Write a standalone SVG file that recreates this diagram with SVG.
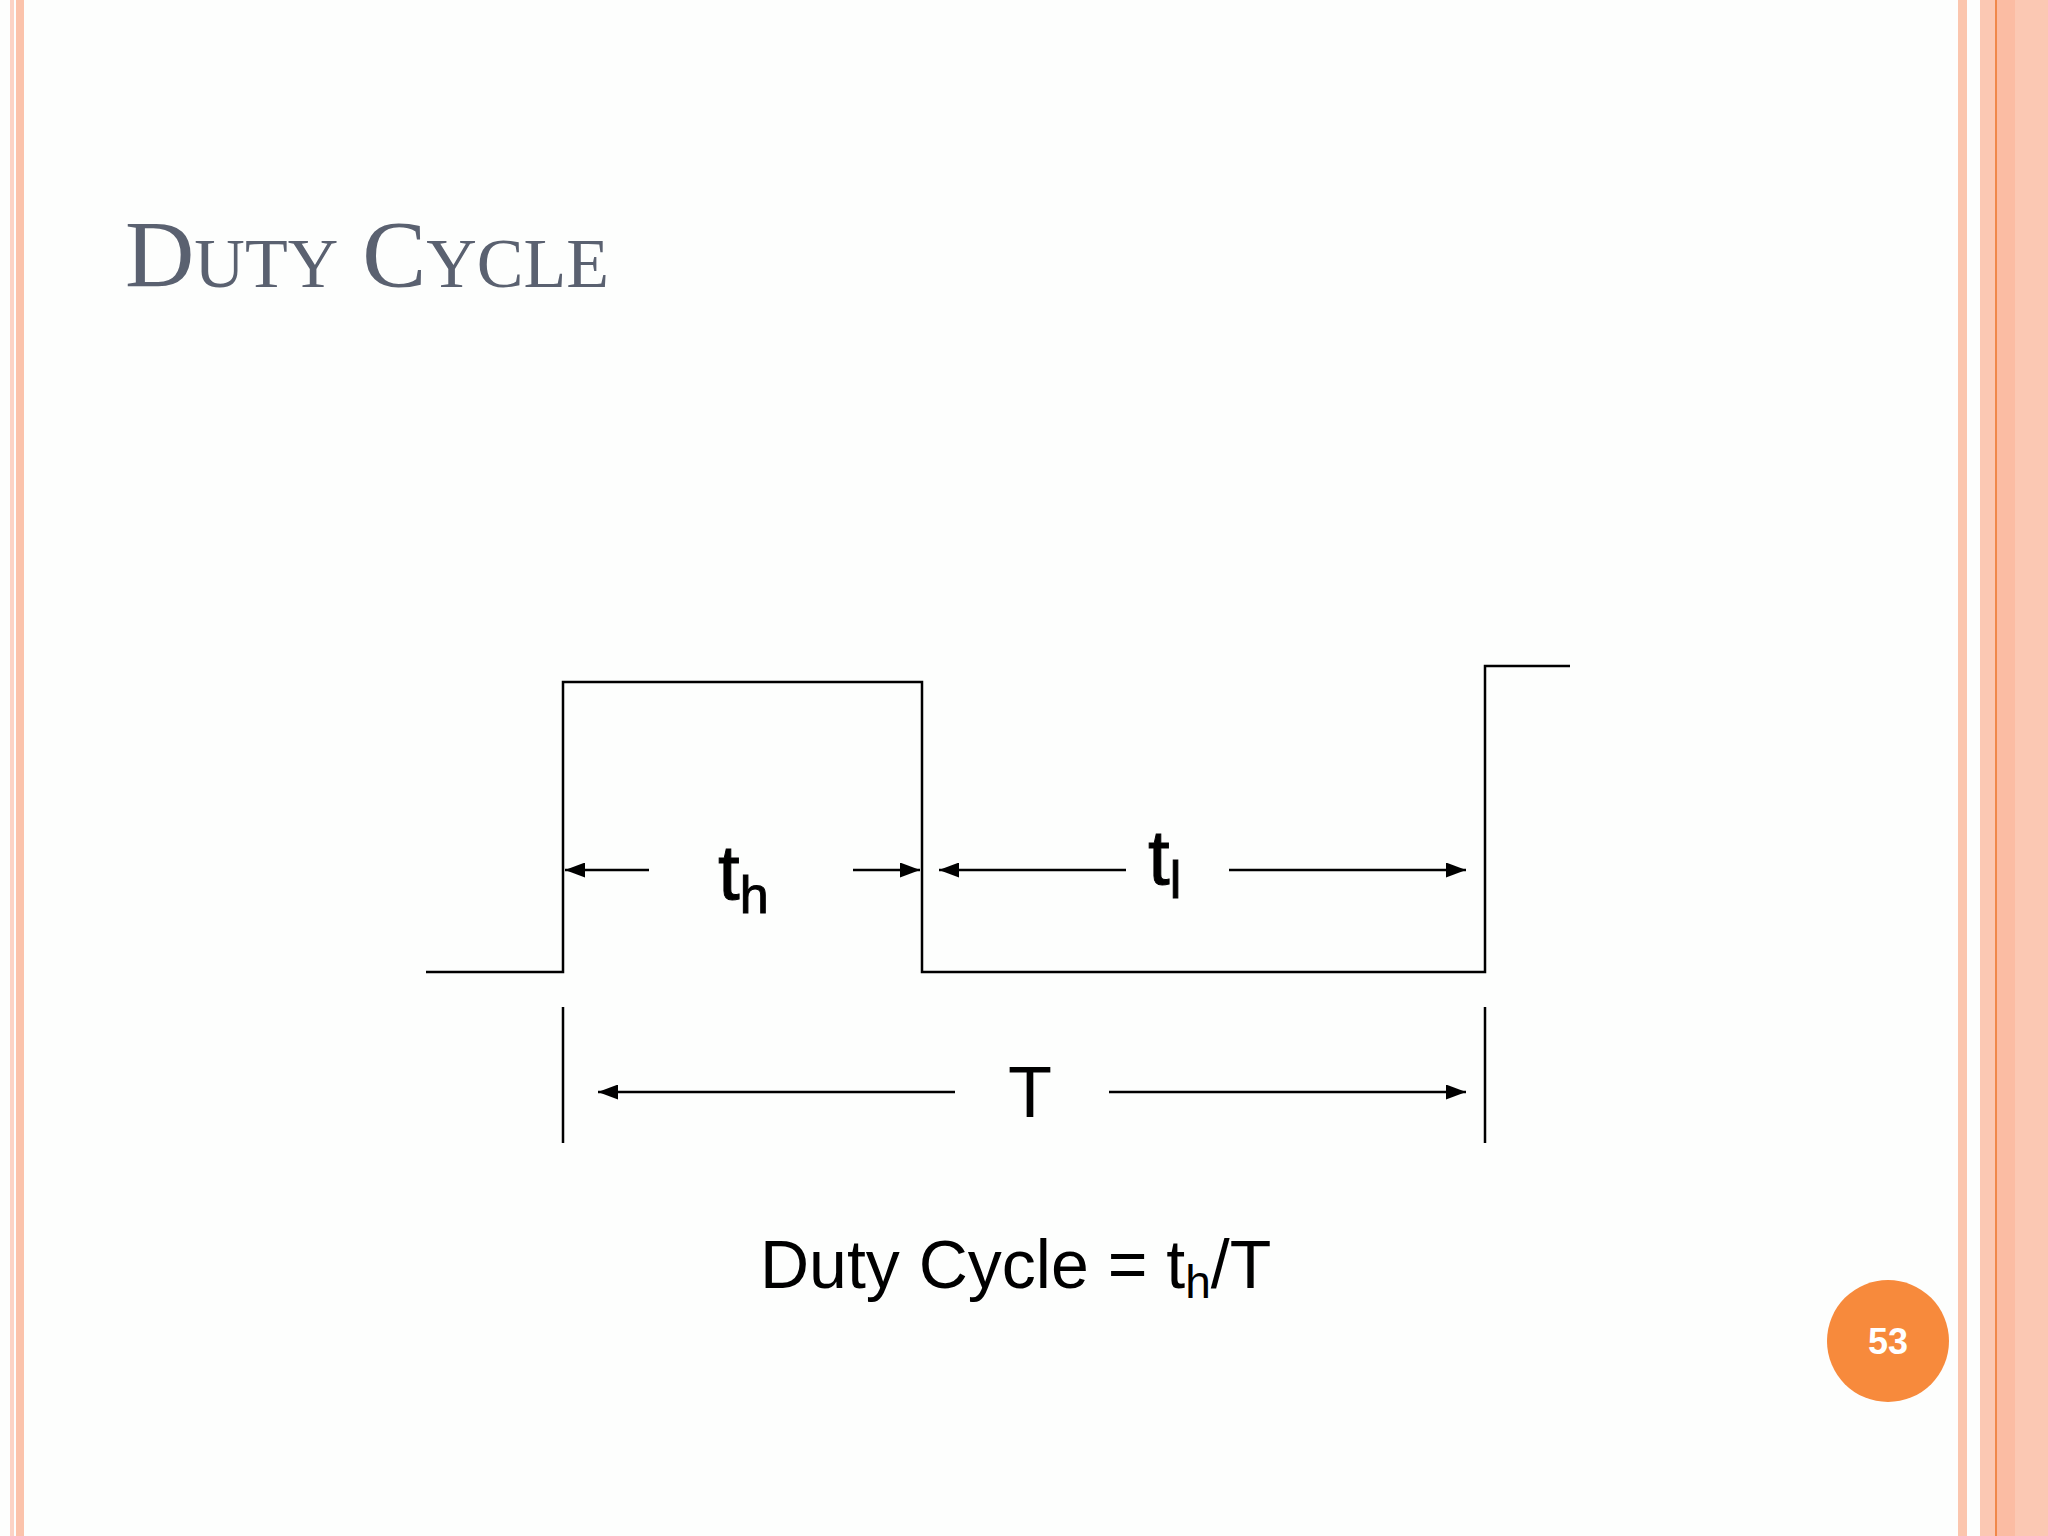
<svg xmlns="http://www.w3.org/2000/svg" width="2048" height="1536" viewBox="0 0 2048 1536">
<style>
.w{stroke:#000;stroke-width:2.5;fill:none}
.a{stroke:#000;stroke-width:2.5;fill:none;marker-end:url(#ah)}
.t{font-family:"Liberation Sans",Arial,sans-serif;fill:#000}
</style>
<defs><marker id="ah" markerWidth="8" markerHeight="6" refX="8" refY="3" orient="auto" markerUnits="strokeWidth"><path d="M0,0L8,3L0,6z" fill="#000"/></marker></defs>
<rect width="2048" height="1536" fill="#fdfefd"/>
<rect x="10" y="0" width="4" height="1536" fill="#fcd3c5"/>
<rect x="16" y="0" width="8" height="1536" fill="#fbc3ab"/>
<rect x="1958" y="0" width="9" height="1536" fill="#fbc6ae"/>
<rect x="1980" y="0" width="68" height="1536" fill="#fbc8b3"/>
<rect x="1996" y="0" width="19" height="1536" fill="#fbbca3"/>
<rect x="1995" y="0" width="2" height="1536" fill="#f0884a"/>
<text x="125" y="287" font-family="'Liberation Serif',serif" font-size="96" fill="#5a6170">D<tspan font-size="70">UTY</tspan> C<tspan font-size="70">YCLE</tspan></text>
<g id="connectors">
<path class="w" d="M426,972H563V682H922V972H1485V666H1570"/>
<path class="w" d="M563,1007V1143M1485,1007V1143"/>
<path class="a" d="M649,870H565"/>
<path class="a" d="M853,870H920"/>
<path class="a" d="M1126,870H939"/>
<path class="a" d="M1229,870H1466"/>
<path class="a" d="M955,1092H598"/>
<path class="a" d="M1109,1092H1466"/>
</g>
<g id="labels">
<text class="t" x="718" y="899" font-size="78" stroke="#000" stroke-width="1">t<tspan font-size="52" dy="14">h</tspan></text>
<text class="t" x="1148" y="884" font-size="78" stroke="#000" stroke-width="1">t<tspan font-size="52" dy="14">l</tspan></text>
<text class="t" x="1030" y="1117" font-size="72" text-anchor="middle">T</text>
<text class="t" x="760" y="1288" font-size="68">Duty Cycle = t<tspan font-size="46" dy="10">h</tspan><tspan dy="-10">/T</tspan></text>
</g>
<g id="page"><circle cx="1888" cy="1341" r="61" fill="#f78a3c"/>
<text x="1888" y="1354" font-family="'Liberation Sans',sans-serif" font-weight="bold" font-size="36" fill="#fff" text-anchor="middle">53</text></g>
</svg>
